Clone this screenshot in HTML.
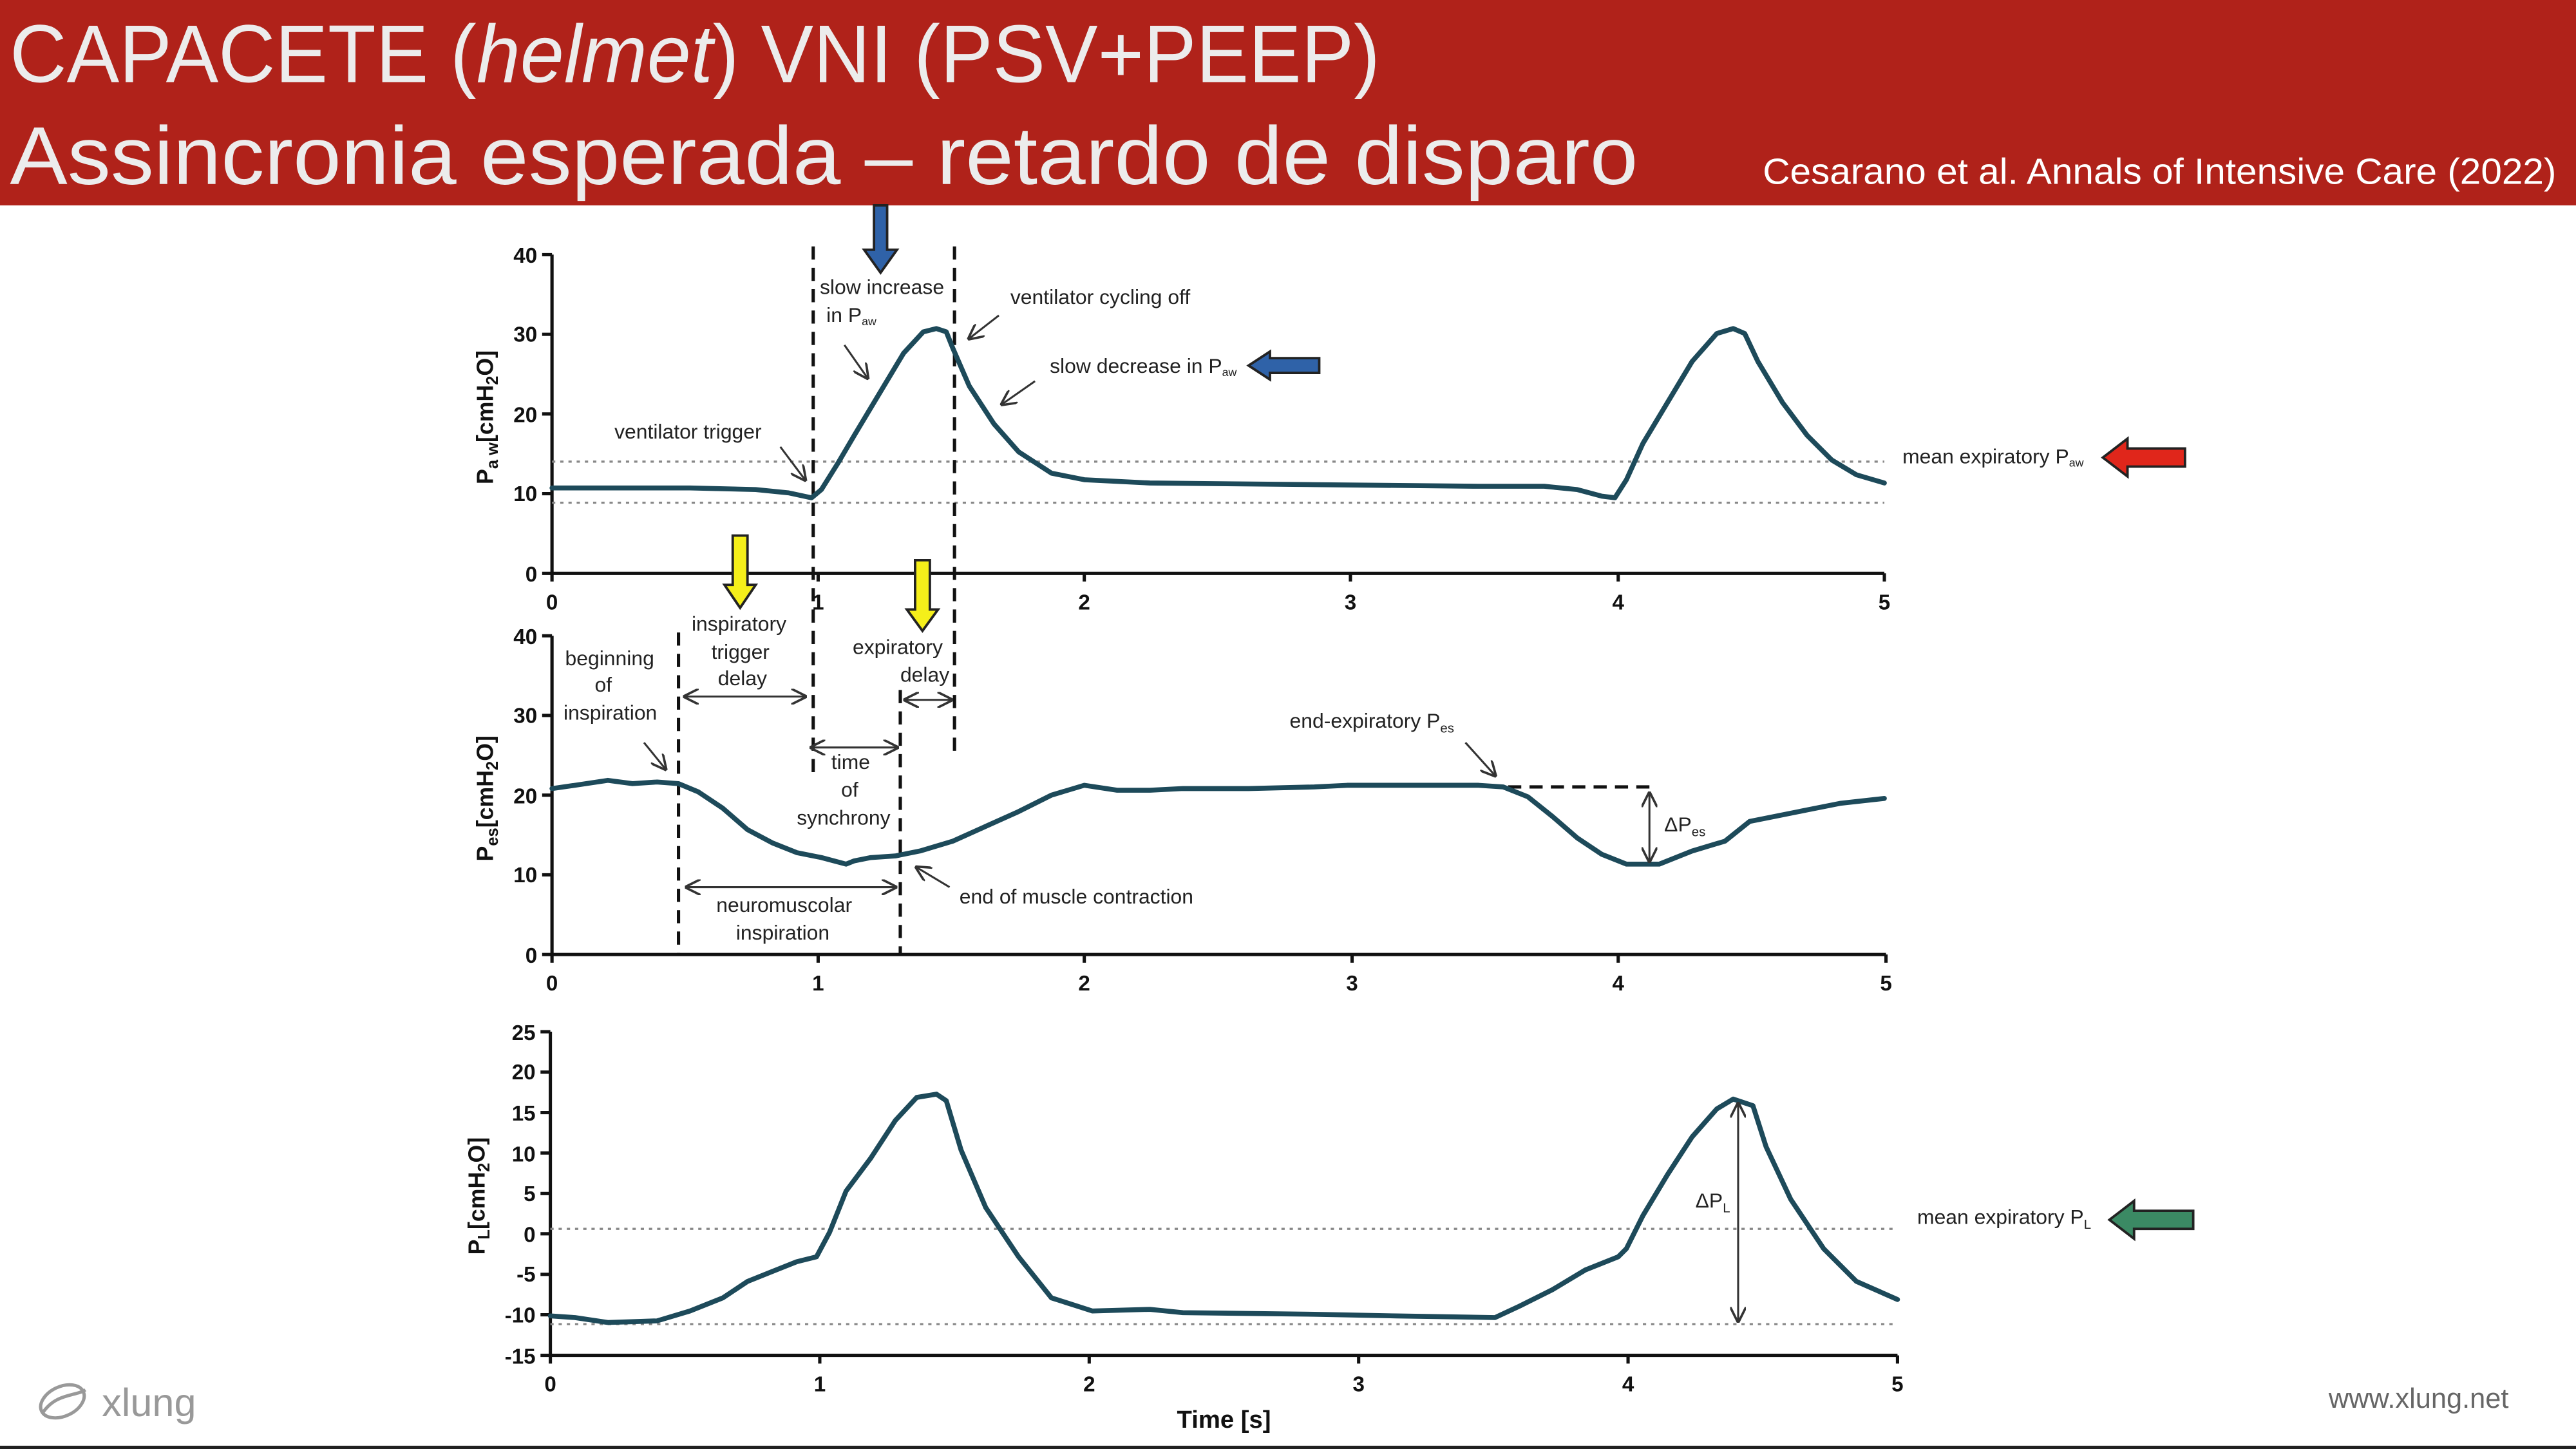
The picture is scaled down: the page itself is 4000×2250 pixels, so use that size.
<!DOCTYPE html>
<html><head><meta charset="utf-8"><style>
html,body{margin:0;padding:0;background:#fff;}
svg{display:block;}
text{font-family:"Liberation Sans",Arial,sans-serif;}
</style></head><body>
<svg width="4000" height="2250" viewBox="0 0 1568 882" xmlns="http://www.w3.org/2000/svg">
<rect x="0" y="0" width="1568" height="882" fill="#fff"/>
<rect x="0" y="0" width="1568" height="125" fill="#B0221A"/>
<text x="6" y="50" fill="#ececec" font-size="50" textLength="834" lengthAdjust="spacingAndGlyphs">CAPACETE (<tspan font-style="italic">helmet</tspan>) VNI (PSV+PEEP)</text>
<text x="6" y="112" fill="#ececec" font-size="50" textLength="991" lengthAdjust="spacingAndGlyphs">Assincronia esperada – retardo de disparo</text>
<text x="1073" y="112" fill="#fff" font-size="22" textLength="483" lengthAdjust="spacingAndGlyphs">Cesarano et al. Annals of Intensive Care (2022)</text>
<rect x="0" y="880" width="1568" height="2" fill="#222"/>

<g stroke="#111" stroke-width="2" fill="none">
<path d="M336 155 V349 H1147"/>
<path d="M330 155H336M330 203.5H336M330 252H336M330 300.5H336M330 349H336"/>
<path d="M336 349v5M498 349v5M660 349v5M822 349v5M985 349v5M1147 349v5"/>
<path d="M336 387 V581 H1148"/>
<path d="M330 387H336M330 435.5H336M330 484H336M330 532.5H336M330 581H336"/>
<path d="M336 581v5M498 581v5M660 581v5M823 581v5M985 581v5M1148 581v5"/>
<path d="M335 628 V825 H1155"/>
<path d="M329 628H335M329 652.6H335M329 677.2H335M329 701.8H335M329 726.5H335M329 751H335M329 775.7H335M329 800.3H335M329 825H335"/>
<path d="M335 825v5M499 825v5M663 825v5M827 825v5M991 825v5M1155 825v5"/>
</g>
<g font-size="13" font-weight="bold" fill="#111" text-anchor="end">
<text x="327" y="160">40</text><text x="327" y="208">30</text><text x="327" y="257">20</text><text x="327" y="305">10</text><text x="327" y="354">0</text>
<text x="327" y="392">40</text><text x="327" y="440">30</text><text x="327" y="489">20</text><text x="327" y="537">10</text><text x="327" y="586">0</text>
<text x="326" y="633">25</text><text x="326" y="657">20</text><text x="326" y="682">15</text><text x="326" y="707">10</text><text x="326" y="731">5</text><text x="326" y="756">0</text><text x="326" y="780">-5</text><text x="326" y="805">-10</text><text x="326" y="830">-15</text>
</g>
<g font-size="13" font-weight="bold" fill="#111" text-anchor="middle">
<text x="336" y="371">0</text><text x="498" y="371">1</text><text x="660" y="371">2</text><text x="822" y="371">3</text><text x="985" y="371">4</text><text x="1147" y="371">5</text>
<text x="336" y="603">0</text><text x="498" y="603">1</text><text x="660" y="603">2</text><text x="823" y="603">3</text><text x="985" y="603">4</text><text x="1148" y="603">5</text>
<text x="335" y="847">0</text><text x="499" y="847">1</text><text x="663" y="847">2</text><text x="827" y="847">3</text><text x="991" y="847">4</text><text x="1155" y="847">5</text>
<text x="745" y="869" font-size="15">Time [s]</text>
</g>
<g font-size="14" font-weight="bold" fill="#111" text-anchor="middle">
<text transform="translate(300,254) rotate(-90)">P<tspan font-size="10" dy="3">a w</tspan><tspan dy="-3">[cmH</tspan><tspan font-size="10" dy="3">2</tspan><tspan dy="-3">O]</tspan></text>
<text transform="translate(300,486) rotate(-90)">P<tspan font-size="10" dy="3">es</tspan><tspan dy="-3">[cmH</tspan><tspan font-size="10" dy="3">2</tspan><tspan dy="-3">O]</tspan></text>
<text transform="translate(295,728) rotate(-90)">P<tspan font-size="10" dy="3">L</tspan><tspan dy="-3">[cmH</tspan><tspan font-size="10" dy="3">2</tspan><tspan dy="-3">O]</tspan></text>
</g>

<g stroke="#888" stroke-width="1.3" stroke-dasharray="2 3" fill="none">
<path d="M336 281H1147M336 306H1147M335 748H1155M335 806H1155"/>
</g>
<g stroke="#111" stroke-width="2" stroke-dasharray="8 5" fill="none">
<path d="M495 150V475M581 150V462M413 385V581M548 420V581"/>
<path d="M918 479H1004"/>
</g>

<g stroke="#1d4a5a" stroke-width="3" fill="none" stroke-linejoin="round" stroke-linecap="round">
<polyline points="336,297 420,297 460,298 480,300 494,303 500,298 510,282 520,265 535,240 550,215 562,202 570,200 576,202 580,212 590,235 605,258 620,275 640,288 660,292 700,294 800,295 900,296 940,296 960,298 975,302 983,303 990,292 1000,270 1015,245 1030,220 1045,203 1055,200 1062,203 1070,220 1085,245 1100,265 1115,280 1130,289 1147,294"/>
<polyline points="336,480 350,478 370,475 385,477 400,476 413,477 425,482 440,492 455,505 470,513 485,519 500,522 515,526 520,524 530,522 545,521 560,518 580,512 600,503 620,494 640,484 660,478 680,481 700,481 720,480 760,480 800,479 820,478 860,478 900,478 915,479 930,485 945,497 960,510 975,520 990,526 1010,526 1030,518 1050,512 1065,500 1080,497 1100,493 1120,489 1147,486"/>
<polyline points="335,801 350,802 370,805 400,804 420,798 440,790 455,780 470,774 485,768 497,765 505,750 515,725 530,705 545,682 558,668 570,666 576,670 585,700 600,735 620,765 640,790 665,798 700,797 720,799 800,800 850,801 910,802 925,795 945,785 965,773 985,765 990,760 1000,740 1015,715 1030,692 1045,675 1055,669 1067,673 1075,698 1090,730 1110,760 1130,780 1155,791"/>
</g>

<defs><marker id="ah" markerWidth="8" markerHeight="8" refX="7" refY="4" orient="auto-start-reverse"><path d="M0 0L8 4L0 8" fill="none" stroke="#333" stroke-width="1.2"/></marker></defs>
<g stroke="#333" stroke-width="1.2" fill="none" marker-end="url(#ah)">
<path d="M475 272L490 292"/>
<path d="M514 210L528 230"/>
<path d="M608 192L590 206"/>
<path d="M630 232L610 246"/>
<path d="M392 452L405 468"/>
<path d="M892 452L910 472"/>
<path d="M578 540L558 528"/>
<path d="M417 424H490" marker-start="url(#ah)"/>
<path d="M494 455H546" marker-start="url(#ah)"/>
<path d="M551 426H579" marker-start="url(#ah)"/>
<path d="M418 540H545" marker-start="url(#ah)"/>
<path d="M1004 483V524" marker-start="url(#ah)"/>
<path d="M1058 672V804" marker-start="url(#ah)"/>
</g>
<g font-size="12.5" fill="#222">
<text x="374" y="267">ventilator trigger</text>
<text x="499" y="179">slow increase</text>
<text x="503" y="196">in P<tspan font-size="7" dy="2">aw</tspan></text>
<text x="615" y="185">ventilator cycling off</text>
<text x="639" y="227">slow decrease in P<tspan font-size="7" dy="2">aw</tspan></text>
<text x="1158" y="282">mean expiratory P<tspan font-size="7" dy="2">aw</tspan></text>
<text x="344" y="405">beginning</text><text x="362" y="421">of</text><text x="343" y="438">inspiration</text>
<text x="421" y="384">inspiratory</text><text x="433" y="401">trigger</text><text x="437" y="417">delay</text>
<text x="519" y="398">expiratory</text><text x="548" y="415">delay</text>
<text x="506" y="468">time</text><text x="512" y="485">of</text><text x="485" y="502">synchrony</text>
<text x="785" y="443">end-expiratory P<tspan font-size="8" dy="3">es</tspan></text>
<text x="1013" y="506">ΔP<tspan font-size="8" dy="3">es</tspan></text>
<text x="584" y="550">end of muscle contraction</text>
<text x="436" y="555">neuromuscolar</text><text x="448" y="572">inspiration</text>
<text x="1032" y="735">ΔP<tspan font-size="8" dy="3">L</tspan></text>
<text x="1167" y="745">mean expiratory P<tspan font-size="8" dy="3">L</tspan></text>
</g>

<g stroke="#222" stroke-width="1.5">
<path d="M532 125H540V152H546L536 166L526 152H532Z" fill="#2f62a8"/>
<path d="M803 218V227H773V231L760 222.5L773 214V218Z" fill="#2f62a8"/>
<path d="M1330 273V284H1295V290L1280 278.5L1295 267V273Z" fill="#e0261b"/>
<path d="M1335 737V748H1299V754L1284 742.5L1299 731V737Z" fill="#3b8a64"/>
<path d="M446 326H455V356H460L450.5 370L441 356H446Z" fill="#f5ef1a"/>
<path d="M557 341H566V371H571L561.5 384L552 371H557Z" fill="#f5ef1a"/>
</g>

<g stroke="#999" stroke-width="2" fill="none">
<ellipse cx="38" cy="853" rx="14" ry="9" transform="rotate(-25 38 853)"/>
<path d="M26 860C34 848 46 850 52 846"/>
</g>
<text x="62" y="862" font-size="24" fill="#999">xlung</text>
<text x="1527" y="857" font-size="17" fill="#666" text-anchor="end">www.xlung.net</text>
</svg>
</body></html>
